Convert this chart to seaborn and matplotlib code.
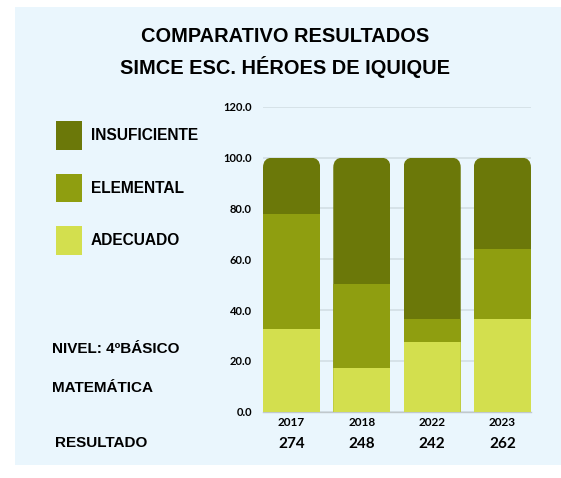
import numpy as np
import pandas as pd
import seaborn as sns
import matplotlib.pyplot as plt
from matplotlib.patches import Rectangle, FancyBboxPatch, Patch

# data
years = ["2017", "2018", "2022", "2023"]
adecuado = [32.5, 17.0, 27.3, 36.5]
elemental = [45.3, 33.2, 9.2, 27.4]
insuficiente = [22.2, 49.8, 63.5, 36.1]
resultado = [274, 248, 242, 262]

levels = ["INSUFICIENTE", "ELEMENTAL", "ADECUADO"]
colors = {"INSUFICIENTE": "#6B7809", "ELEMENTAL": "#8F9E10", "ADECUADO": "#D3DF4E"}

df = pd.DataFrame({"year": years, "ADECUADO": adecuado,
                   "ELEMENTAL": elemental, "INSUFICIENTE": insuficiente})
df["top_ad"] = df["ADECUADO"]
df["top_el"] = df["ADECUADO"] + df["ELEMENTAL"]
df["top_in"] = df["top_el"] + df["INSUFICIENTE"]

sns.set_theme(style="white")
plt.rcParams["font.family"] = ["Liberation Sans", "DejaVu Sans"]
plt.rcParams["text.color"] = "black"
plt.rcParams["xtick.color"] = "black"
plt.rcParams["ytick.color"] = "black"

fig = plt.figure(figsize=(5.61, 4.78), dpi=100, facecolor="white")
fig.patches.append(Rectangle((15 / 561, 1 - 465 / 478), 546 / 561, 458 / 478,
                             transform=fig.transFigure, facecolor="#EAF6FD",
                             edgecolor="none", zorder=-5))

ax = fig.add_axes([263 / 561, 1 - 411.7 / 478, 268 / 561, 305 / 478])
ax.set_facecolor("none")

# stacked bars: draw cumulative tops, tallest first
for col, lev in [("top_in", "INSUFICIENTE"), ("top_el", "ELEMENTAL"), ("top_ad", "ADECUADO")]:
    sns.barplot(data=df, x="year", y=col, color=colors[lev], width=0.814,
                saturation=1, linewidth=0, ax=ax, zorder=3)

ax.set_xlim(-0.407, 3.407)
ax.set_ylim(0, 120)

# rounded tops via clipping each column
for p in ax.patches:
    clip = FancyBboxPatch((p.get_x(), -10), p.get_width(), 110,
                          boxstyle="round,pad=0,rounding_size=0.14",
                          mutation_aspect=28, transform=ax.transData)
    p.set_clip_path(clip)

ax.set_yticks(np.arange(0, 121, 20))
ax.set_yticklabels([f"{v:.1f}" for v in np.arange(0, 121, 20)],
                   fontsize=8, fontweight="bold", family="Lato")
ax.set_xticks(range(len(years)))
ax.set_xticklabels(years, fontsize=8.5, fontweight="bold", family="Lato")
ax.tick_params(axis="both", length=0)
ax.tick_params(axis="y", pad=8)
ax.tick_params(axis="x", pad=4)
ax.set_xlabel("")
ax.set_ylabel("")
ax.grid(axis="y", color="#D3DEE4", linewidth=1.2, zorder=0)
for s in ["top", "right", "left"]:
    ax.spines[s].set_visible(False)
ax.spines["bottom"].set_color("#C0C8CC")
ax.spines["bottom"].set_linewidth(1)

for i, r in enumerate(resultado):
    ax.text(i, -12.8, str(r), ha="center", va="center", fontsize=11,
            fontweight="bold", family="Lato", clip_on=False)

fig.text(285 / 561, 1 - 36 / 478, "COMPARATIVO RESULTADOS", ha="center",
         va="center", fontsize=14.4, fontweight="bold")
fig.text(285 / 561, 1 - 67 / 478, "SIMCE ESC. HÉROES DE IQUIQUE", ha="center",
         va="center", fontsize=14.4, fontweight="bold")

handles = [Patch(facecolor=colors[l], edgecolor="none") for l in levels]
leg = fig.legend(handles, levels, loc="upper left",
                 bbox_to_anchor=(56 / 561, 1 - 121 / 478), frameon=False,
                 prop={"size": 11.2, "weight": "bold"}, handlelength=1.67,
                 handleheight=2.45, labelspacing=1.55, handletextpad=0.55,
                 borderpad=0, borderaxespad=0)

fig.text(52 / 561, 1 - 349 / 478, "NIVEL: 4ºBÁSICO", ha="left", va="center",
         fontsize=11, fontweight="bold")
fig.text(52 / 561, 1 - 388 / 478, "MATEMÁTICA", ha="left", va="center",
         fontsize=11, fontweight="bold")
fig.text(55 / 561, 1 - 443 / 478, "RESULTADO", ha="left", va="center",
         fontsize=11, fontweight="bold")

fig.savefig("out.png", dpi=100, facecolor="white")
